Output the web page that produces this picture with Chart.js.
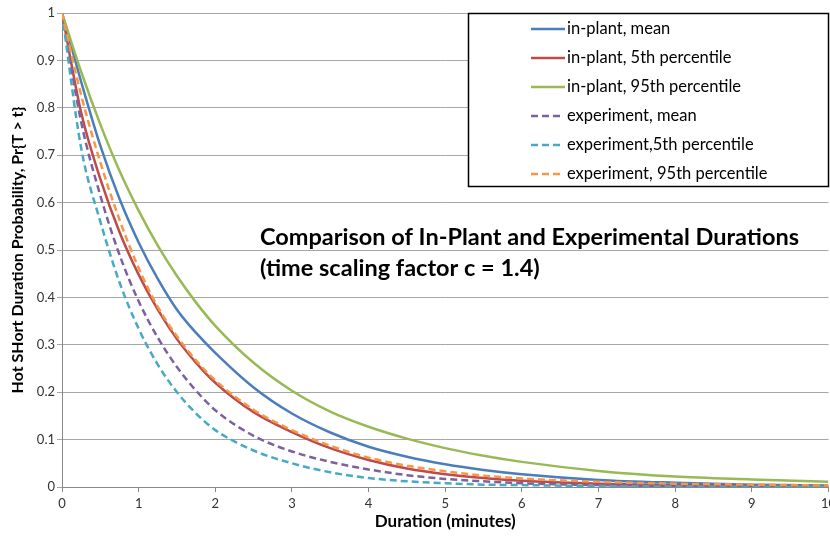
<!DOCTYPE html>
<html>
<head>
<meta charset="utf-8">
<script src="https://cdn.jsdelivr.net/npm/chart.js@4.4.0/dist/chart.umd.min.js"></script>
<style>
html, body { margin: 0; padding: 0; background: #fff; overflow: hidden; }
#wrap { width: 830px; height: 536px; overflow: hidden; }
</style>
</head>
<body>
<div id="wrap"><canvas id="chart" width="840" height="536"></canvas></div>
<script>
// Duration (minutes) and survival probabilities
const durations = [0, 0.25, 0.5, 0.75, 1, 1.25, 1.5, 1.75, 2, 2.5, 3, 3.5, 4, 4.5, 5, 5.5, 6, 7, 8, 9, 10];

const inPlantMean = [1, 0.855, 0.72, 0.608, 0.516, 0.439, 0.374, 0.325, 0.283, 0.21, 0.155, 0.115, 0.085, 0.064, 0.048, 0.036, 0.027, 0.015, 0.009, 0.005, 0.003];
const inPlant5th  = [1, 0.79, 0.65, 0.538, 0.448, 0.374, 0.312, 0.262, 0.22, 0.158, 0.116, 0.082, 0.057, 0.039, 0.027, 0.019, 0.013, 0.007, 0.004, 0.002, 0.001];
const inPlant95th = [1, 0.876, 0.765, 0.667, 0.583, 0.509, 0.445, 0.389, 0.34, 0.262, 0.203, 0.159, 0.127, 0.102, 0.082, 0.066, 0.053, 0.034, 0.022, 0.016, 0.011];
const expMean     = [1, 0.77, 0.615, 0.49, 0.392, 0.315, 0.253, 0.203, 0.162, 0.108, 0.075, 0.053, 0.037, 0.025, 0.017, 0.012, 0.008, 0.004, 0.002, 0.001, 0.0005];
const exp5th      = [1, 0.715, 0.56, 0.432, 0.334, 0.258, 0.2, 0.155, 0.12, 0.077, 0.05, 0.031, 0.019, 0.012, 0.008, 0.005, 0.004, 0.002, 0.001, 0.0005, 0.0003];
const exp95th     = [1, 0.827, 0.685, 0.564, 0.462, 0.38, 0.318, 0.267, 0.225, 0.163, 0.12, 0.087, 0.062, 0.045, 0.033, 0.024, 0.018, 0.011, 0.007, 0.005, 0.003];

const seriesLabels = ['in-plant, mean', 'in-plant, 5th percentile', 'in-plant, 95th percentile',
                      'experiment, mean', 'experiment,5th percentile', 'experiment, 95th percentile'];
const seriesValues = [inPlantMean, inPlant5th, inPlant95th, expMean, exp5th, exp95th];
const seriesColors = ['#4a7ebb', '#be4b48', '#98b954', '#7d60a0', '#46aac5', '#f79646'];
const seriesDashed = [false, false, false, true, true, true];

const titleLines = ['Comparison of In-Plant and Experimental Durations', '(time scaling factor c = 1.4)'];

const datasets = seriesLabels.map((label, i) => ({
    label: label,
    data: durations.map((t, j) => ({ x: t, y: seriesValues[i][j] })),
    borderColor: seriesColors[i],
    borderWidth: 2.5,
    borderDash: seriesDashed[i] ? [7, 4] : [],
    pointRadius: 0,
    fill: false,
    cubicInterpolationMode: 'monotone',
    order: seriesLabels.length - i
}));

// boxed legend + in-plot title, like the spreadsheet original
const overlay = {
    id: 'overlay',
    afterDraw(chart) {
        const ctx = chart.ctx;
        ctx.save();
        ctx.fillStyle = '#fff';
        ctx.fillRect(468.5, 13.5, 360, 173);
        ctx.strokeStyle = '#000';
        ctx.lineWidth = 1.5;
        ctx.strokeRect(468.5, 13.5, 360, 173);
        ctx.textBaseline = 'middle';
        ctx.font = '16.5px Lato';
        chart.data.datasets.forEach((ds, i) => {
            const y = 29 + i * 29;
            ctx.strokeStyle = ds.borderColor;
            ctx.lineWidth = 2.5;
            ctx.setLineDash(ds.borderDash);
            ctx.beginPath();
            ctx.moveTo(531, y);
            ctx.lineTo(ds.borderDash.length ? 561 : 565, y);
            ctx.stroke();
            ctx.setLineDash([]);
            ctx.fillStyle = '#000';
            ctx.fillText(ds.label, 567, y);
        });
        ctx.font = 'bold 23.5px Lato';
        ctx.fillText(titleLines[0], 260, 237);
        ctx.fillText(titleLines[1], 260, 268);
        ctx.restore();
    }
};

new Chart(document.getElementById('chart'), {
    type: 'line',
    data: { datasets: datasets },
    options: {
        responsive: false,
        animation: false,
        layout: { padding: { left: 4, right: 0, top: 13, bottom: 0 } },
        plugins: { legend: { display: false }, tooltip: { enabled: false } },
        scales: {
            x: {
                type: 'linear', min: 0, max: 10,
                afterFit(scale) { scale.height = 49; },
                ticks: { stepSize: 1, color: '#333', font: { family: 'Lato', size: 13 }, padding: 4, maxRotation: 0 },
                grid: { drawOnChartArea: false, drawTicks: true, tickLength: 5, color: '#888' },
                border: { color: '#888' },
                title: { display: true, text: 'Duration (minutes)', color: '#000',
                         font: { family: 'Lato', size: 17, weight: 'bold' }, padding: { top: 0, bottom: 4 } }
            },
            y: {
                min: 0, max: 1,
                afterFit(scale) { scale.width = 58; },
                ticks: { stepSize: 0.1, color: '#333', font: { family: 'Lato', size: 13 }, padding: 2,
                         callback: v => String(Math.round(v * 10) / 10) },
                grid: { color: '#a6a6a6', tickLength: 5 },
                border: { color: '#888' },
                title: { display: true, text: 'Hot SHort Duration Probability, Pr{T > t}', color: '#000',
                         font: { family: 'Lato', size: 16, weight: 'bold' }, padding: { top: 4, bottom: 4 } }
            }
        }
    },
    plugins: [overlay]
});
</script>
</body>
</html>
